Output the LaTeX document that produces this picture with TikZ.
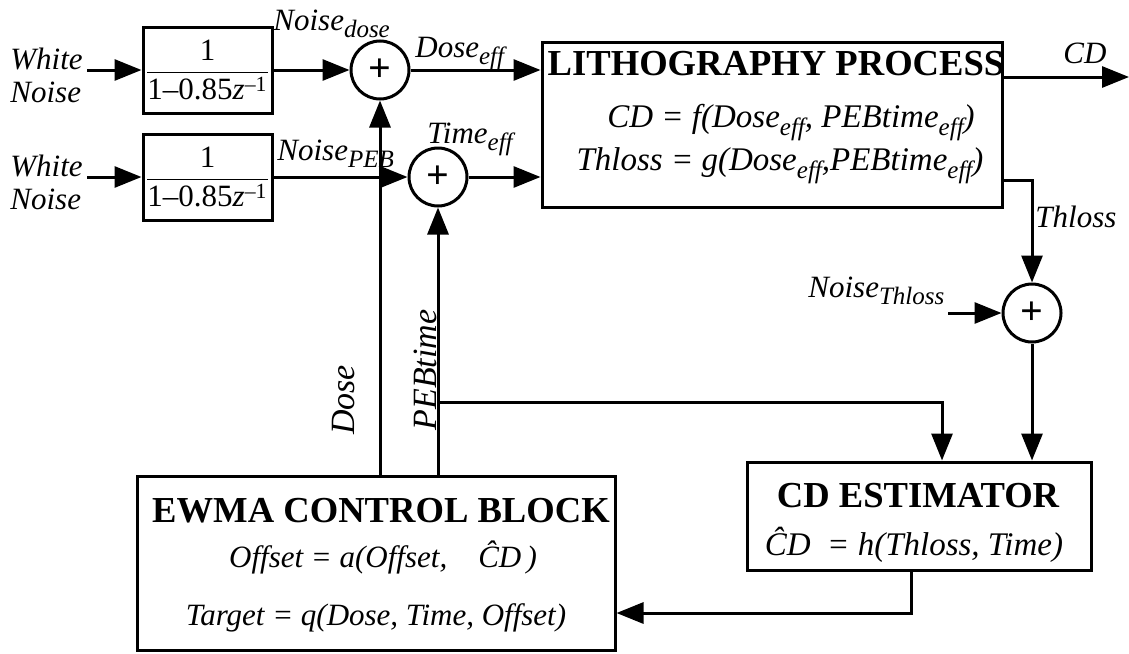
\documentclass[tikz,border=0pt]{standalone}
\usepackage{fontspec}
\setmainfont{Liberation Serif}
\usepackage{amsmath}
\usetikzlibrary{arrows.meta,positioning}
\newcommand{\lsub}[1]{\raisebox{-0.55ex}{\fontsize{12.5}{13}\selectfont\itshape #1}}
\tikzset{
  bd block/.style={draw, line width=1.5pt, inner sep=0pt},
  bd sum/.style={circle, draw, line width=1.5pt, minimum size=29pt, inner sep=0pt,
    font=\fontsize{20}{20}\selectfont\bfseries},
  bd wire/.style={line width=1.5pt},
  bd link/.style={bd wire, -{Triangle[length=13.5pt,width=10.5pt]}},
  bd label/.style={font=\fontsize{15.5}{16.5}\selectfont\itshape, inner sep=0pt},
  bd title/.style={font=\fontsize{18.3}{20}\selectfont\bfseries, inner sep=0pt},
  bd eq/.style={font=\fontsize{16.5}{17}\selectfont\itshape, inner sep=0pt},
  bd filter/.style={bd block, minimum width=64.5pt, minimum height=43pt,
    font=\fontsize{15.5}{16}\selectfont}
}
\newcommand{\arfilter}{$\dfrac{\text{1}}{\text{1--0.85}\textit{z}^{\text{--1}}}$}

\begin{document}
\begin{tikzpicture}[x=0.5pt,y=-0.5pt]
  \useasboundingbox (0,0) rectangle (1129,653);

  \node[bd label, anchor=north west, align=left] (wn1) at (10,48) {White\\Noise};
  \node[bd label, anchor=north west, align=left] (wn2) at (10,155) {White\\Noise};
  \coordinate (w1) at (87,70);
  \coordinate (w2) at (87,177);

  \node[bd filter] (f1) at (207.5,70) {\arfilter};
  \node[bd filter] (f2) at (207.5,177) {\arfilter};

  \node[bd sum] (s1) at (380,70) {+};
  \node[bd sum] (s2) at (438,177) {+};
  \node[bd sum] (s3) at (1032,313) {+};

  \node[bd block, minimum width=230pt, minimum height=82.5pt] (litho) at (772,124.5) {};
  \node[bd title, anchor=base] (lithoT) at (776,75) {LITHOGRAPHY PROCESS};
  \node[bd eq, anchor=base] (lithoE1) at (791,127) {CD = f(Dose\lsub{eff}, PEBtime\lsub{eff})};
  \node[bd eq, anchor=base] (lithoE2) at (780,170) {Thloss = g(Dose\lsub{eff},PEBtime\lsub{eff})};

  \node[bd block, minimum width=172pt, minimum height=54pt] (est) at (919,516) {};
  \node[bd title, anchor=base] (estT) at (918,507) {CD ESTIMATOR};
  \node[bd eq, anchor=base] (estE) at (914,555) {\^{C}D\enspace= h(Thloss, Time)};

  \node[bd block, minimum width=239pt, minimum height=87pt] (ewma) at (376,563) {};
  \node[bd title, anchor=base] (ewmaT) at (381,522) {EWMA CONTROL BLOCK};
  \node[bd eq, anchor=base, font=\fontsize{15.5}{17}\selectfont\itshape] (ewmaE1) at (383,567) {Offset = a(Offset,\quad\^{C}D\,)};
  \node[bd eq, anchor=base, font=\fontsize{15.5}{17}\selectfont\itshape] (ewmaE2) at (376,625) {Target = q(Dose, Time, Offset)};

  \node[bd label, anchor=base west] (ndose) at (273,30) {Noise\lsub{dose}};
  \node[bd label, anchor=base west] (npeb) at (277,160) {Noise\lsub{PEB}};
  \node[bd label, anchor=base west] (deff) at (415,57) {Dose\lsub{eff}};
  \node[bd label, anchor=base west] (teff) at (427,143) {Time\lsub{eff}};
  \node[bd label, anchor=base west] (cdlab) at (1063,63) {CD};
  \node[bd label, anchor=base west] (thlab) at (1035,227) {Thloss};
  \node[bd label, anchor=base west] (nth) at (808,297) {Noise\lsub{Thloss}};
  \node[bd label, rotate=90, anchor=base, font=\fontsize{17}{18}\selectfont\itshape] (doselab) at (354,400) {Dose};
  \node[bd label, rotate=90, anchor=base, font=\fontsize{17}{18}\selectfont\itshape] (peblab) at (436,370) {PEBtime};

  \coordinate (nthin) at (948,313);
  \coordinate (cdout) at (1129,77);
  \coordinate (tap) at (438,402);

  \draw[bd link] (w1) -- (f1.west);
  \draw[bd link] (w2) -- (f2.west);
  \draw[bd link] (f1.east) -- (s1.west);
  \draw[bd link] (f2.east) -- (s2.west);
  \draw[bd link] (s1.east) -- (s1.east -| litho.west);
  \draw[bd link] (s2.east) -- (s2.east -| litho.west);
  \draw[bd link] (s1.south |- ewma.north) -- (s1.south);
  \draw[bd link] (s2.south |- ewma.north) -- (s2.south);
  \draw[bd link] (cdout -| litho.east) -- (cdout);
  \draw[bd link] ([yshift=-27.75pt]litho.east) -| (s3.north);
  \draw[bd link] (nthin) -- (s3.west);
  \draw[bd link] (s3.south) -- (s3.south |- est.north);
  \draw[bd link] (tap) -| ([xshift=11.5pt]est.north);
  \draw[bd link] ([xshift=-4pt]est.south) |- ([yshift=-25pt]ewma.east);
\end{tikzpicture}
\end{document}
